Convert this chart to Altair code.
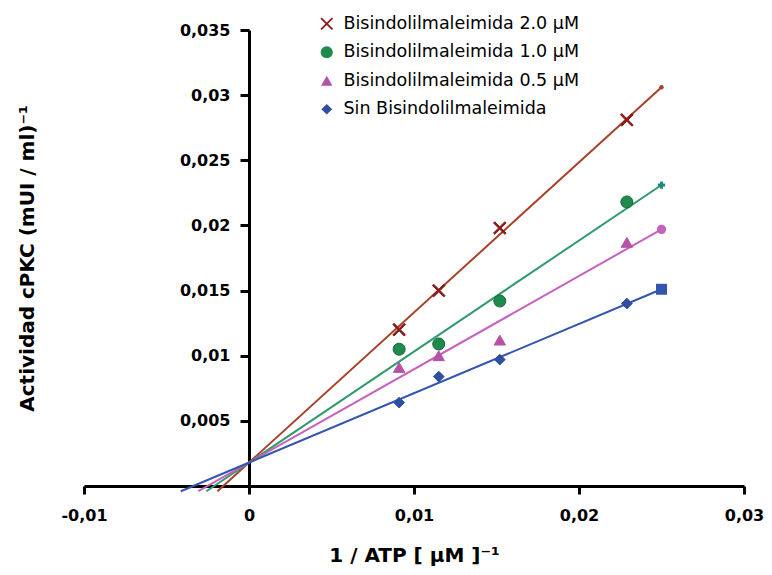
import altair as alt
import pandas as pd

# ---- data ----
SERIES = [
    "Bisindolilmaleimida 2.0 μM",
    "Bisindolilmaleimida 1.0 μM",
    "Bisindolilmaleimida 0.5 μM",
    "Sin Bisindolilmaleimida",
]
X_VALS = [0.0091, 0.0115, 0.0152, 0.0229]          # 1/ATP
Y_BIS20 = [0.0120, 0.0150, 0.0198, 0.0281]
Y_BIS10 = [0.0105, 0.0109, 0.0142, 0.0218]
Y_BIS05 = [0.0091, 0.0100, 0.0112, 0.0187]
Y_SIN = [0.0064, 0.0084, 0.0097, 0.0140]

# fitted lines: common y-intercept, value at x end
LINE_INTERCEPT = 0.0018
LINE_X_END = 0.025
LINE_Y_END = [0.0306, 0.0231, 0.0197, 0.0151]
LINE_Y_FLOOR = -0.0004   # lines run slightly below the x axis

X_TICKS = [-0.01, 0, 0.01, 0.02, 0.03]
Y_TICKS = [0.005, 0.01, 0.015, 0.02, 0.025, 0.03, 0.035]

X_TITLE = "1 / ATP [ μM ]⁻¹"
Y_TITLE = "Actividad cPKC (mUI / ml)⁻¹"

# ---- styling ----
X_SHAPE = "M-1,-0.8L-0.8,-1L0,-0.2L0.8,-1L1,-0.8L0.2,0L1,0.8L0.8,1L0,0.2L-0.8,1L-1,0.8L-0.2,0Z"
PT_COLORS = ["#8B1A1A", "#1E8A4E", "#B552A8", "#2E4EA0"]
PT_STROKES = ["#8B1A1A", "#136B38", "#B552A8", "#2E4EA0"]
PT_SHAPES = [X_SHAPE, "circle", "triangle-up", "diamond"]
PT_SIZES = [160, 115, 150, 150]
LINE_COLORS = ["#A8402A", "#2F9A6A", "#C462BD", "#3355B0"]
LINE_WIDTHS = [2, 2, 1.3, 2]
END_COLORS = ["#A8402A", "#1A8A80", "#C462BD", "#3355B0"]
END_SHAPES = ["circle", "cross", "circle", "square"]
END_SIZES = [20, 120, 16, 22]

# ---- tables ----
rows = []
for s, ys in zip(SERIES, [Y_BIS20, Y_BIS10, Y_BIS05, Y_SIN]):
    for x, y in zip(X_VALS, ys):
        rows.append({"series": s, "x": x, "y": y})
pts = pd.DataFrame(rows)

lrows, erows = [], []
for s, ye in zip(SERIES, LINE_Y_END):
    slope = (ye - LINE_INTERCEPT) / LINE_X_END
    x0 = (LINE_Y_FLOOR - LINE_INTERCEPT) / slope
    lrows.append({"series": s, "x": x0, "y": LINE_Y_FLOOR, "o": 0})
    lrows.append({"series": s, "x": LINE_X_END, "y": ye, "o": 1})
    erows.append({"series": s, "x": LINE_X_END, "y": ye})
lines = pd.DataFrame(lrows)
ends = pd.DataFrame(erows)

W, H = 660, 456
lab_expr = "replace(toString(datum.value), '.', ',')"

xenc = alt.X(
    "x:Q",
    scale=alt.Scale(domain=[-0.01, 0.03], nice=False, zero=False),
    axis=alt.Axis(
        values=X_TICKS, labelExpr=lab_expr, title=X_TITLE, grid=False,
        domainColor="black", domainWidth=3, tickColor="black", tickWidth=3,
        tickSize=8, labelPadding=13, labelFont="DejaVu Sans", labelFontWeight="bold",
        labelFontSize=16, labelColor="black", titleFont="DejaVu Sans",
        titleFontWeight="bold", titleFontSize=20, titleColor="black",
        titleBaseline="alphabetic", titleY=75, labelFlush=False, labelOverlap=False,
    ),
)
yenc = alt.Y(
    "y:Q",
    scale=alt.Scale(domain=[0, 0.035], nice=False, zero=False),
    axis=alt.Axis(
        values=Y_TICKS, labelExpr=lab_expr, title=Y_TITLE, grid=False,
        offset=-W / 4, domainColor="black", domainWidth=3, tickColor="black",
        tickWidth=3, tickSize=9, labelPadding=10, labelFont="DejaVu Sans",
        labelFontWeight="bold", labelFontSize=16, labelColor="black",
        titleFont="DejaVu Sans", titleFontWeight="bold", titleFontSize=20,
        titleColor="black", titleBaseline="alphabetic", titleX=-216,
        labelFlush=False, labelOverlap=False,
    ),
)

line_layer = alt.Chart(lines).mark_line(clip=False).encode(
    x=xenc, y=yenc, order="o:Q",
    color=alt.Color("series:N", scale=alt.Scale(domain=SERIES, range=LINE_COLORS), legend=None),
    strokeWidth=alt.StrokeWidth("series:N", scale=alt.Scale(domain=SERIES, range=LINE_WIDTHS), legend=None),
)

end_layer = alt.Chart(ends).mark_point(filled=True, opacity=1).encode(
    x="x:Q", y="y:Q",
    color=alt.Color("series:N", scale=alt.Scale(domain=SERIES, range=END_COLORS), legend=None),
    shape=alt.Shape("series:N", scale=alt.Scale(domain=SERIES, range=END_SHAPES), legend=None),
    size=alt.Size("series:N", scale=alt.Scale(domain=SERIES, range=END_SIZES), legend=None),
)

pt_layer = alt.Chart(pts).mark_point(filled=True, opacity=1, strokeWidth=1).encode(
    x="x:Q", y="y:Q",
    color=alt.Color(
        "series:N", scale=alt.Scale(domain=SERIES, range=PT_COLORS),
        legend=alt.Legend(
            title=None, orient="none", legendX=234, legendY=-15, padding=0,
            labelFont="DejaVu Sans", labelFontSize=17.5, labelColor="black",
            labelLimit=400, labelOffset=8, rowPadding=9.5, symbolSize=140,
            symbolStrokeWidth=0,
        ),
    ),
    shape=alt.Shape("series:N", scale=alt.Scale(domain=SERIES, range=PT_SHAPES)),
    size=alt.Size("series:N", scale=alt.Scale(domain=SERIES, range=PT_SIZES), legend=None),
    stroke=alt.Stroke("series:N", scale=alt.Scale(domain=SERIES, range=PT_STROKES), legend=None),
)

chart = (
    alt.layer(line_layer, end_layer, pt_layer)
    .resolve_scale(color="independent", shape="independent", size="independent",
                   strokeWidth="independent", stroke="independent")
    .properties(
        width=W, height=H,
        autosize=alt.AutoSizeParams(type="none"),
        padding={"left": 76, "top": 22, "right": 20, "bottom": 80},
        background="white",
    )
    .configure_view(stroke=None)
)

chart.save("out.html", embed_options={"renderer": "svg", "actions": False})
